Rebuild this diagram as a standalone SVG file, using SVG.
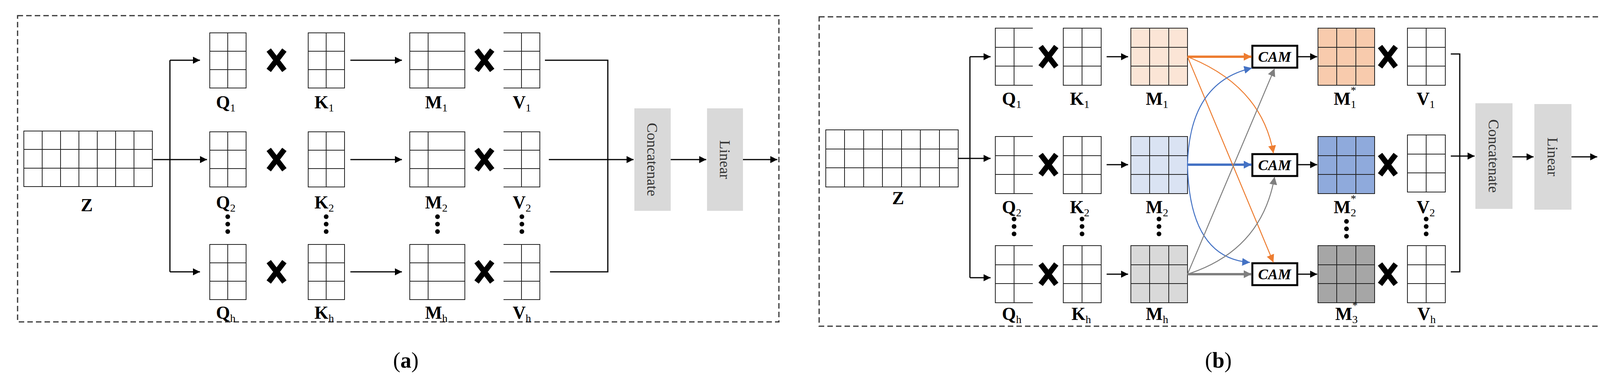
<svg xmlns="http://www.w3.org/2000/svg" xmlns:xlink="http://www.w3.org/1999/xlink" width="4136" height="992" viewBox="0 0 4136 992">
<style>
.g{fill:none;stroke:#222;stroke-width:2}
.c{fill:none;stroke:#000;stroke-width:3}
.lb{font-family:"Liberation Serif",serif;font-weight:bold;font-size:46px;text-anchor:middle}
.sb{font-size:28px;font-weight:normal}
.cam{font-family:"Liberation Serif",serif;font-weight:bold;font-style:italic;font-size:38px;text-anchor:middle}
.rot{font-family:"Liberation Serif",serif;font-size:38px;fill:#333;text-anchor:middle}
.x{stroke:#000;stroke-width:14;stroke-linecap:butt}
.box{fill:#d9d9d9}
</style>
<defs>
<marker id="ah" viewBox="0 0 10 10" refX="10" refY="5" markerWidth="18" markerHeight="18" markerUnits="userSpaceOnUse" orient="auto"><path d="M0,0L10,5L0,10z" fill="#000"/></marker>
<marker id="ao" viewBox="0 0 10 10" refX="10" refY="5" markerWidth="20" markerHeight="20" markerUnits="userSpaceOnUse" orient="auto"><path d="M0,0L10,5L0,10z" fill="#ed7d31"/></marker>
<marker id="ab" viewBox="0 0 10 10" refX="10" refY="5" markerWidth="20" markerHeight="20" markerUnits="userSpaceOnUse" orient="auto"><path d="M0,0L10,5L0,10z" fill="#4472c4"/></marker>
<marker id="ag" viewBox="0 0 10 10" refX="10" refY="5" markerWidth="20" markerHeight="20" markerUnits="userSpaceOnUse" orient="auto"><path d="M0,0L10,5L0,10z" fill="#7f7f7f"/></marker>
<g id="gQa" class="g"><rect x="0" y="0" width="93" height="141"/><path d="M46,0V141M0,47H93M0,94H93"/></g>
<g id="gMa" class="g"><rect x="0" y="0" width="141" height="141"/><path d="M47,0V141M0,47H141M0,94H141"/></g>
<g id="gVa" class="g"><path d="M0,0H93V141H0M46,0V141M0,47H93M0,94H93"/></g>
<g id="gZa" class="g"><rect x="0" y="0" width="329" height="142"/><path d="M47,0V142M94,0V142M141,0V142M188,0V142M235,0V142M282,0V142M0,47H329M0,95H329"/></g>
<g id="gQb" class="g"><path d="M96,0H0V146H96M48,0V146M0,49H96M0,97H96"/></g>
<g id="gKb" class="g"><rect x="0" y="0" width="97" height="146"/><path d="M48,0V146M0,49H97M0,97H97"/></g>
<g id="gMb" class="g"><rect x="0" y="0" width="145" height="146"/><path d="M48,0V146M97,0V146M0,49H145M0,97H145"/></g>
<g id="gZb"><rect x="0" y="0" width="339" height="146" class="g"/><path class="g" d="M48,0V146M97,0V146M145,0V146M194,0V146M242,0V146M291,0V146M0,49H339M0,97H339"/></g>
<g id="xm"><path class="x" d="M-20,-26L20,26M20,-26L-20,26"/></g>
<g id="dots"><circle cx="0" cy="0" r="6"/><circle cx="0" cy="19" r="6"/><circle cx="0" cy="38" r="6"/></g>
</defs>

<!-- Panel a -->
<rect x="45" y="40" width="1949" height="783" fill="none" stroke="#333" stroke-width="3" stroke-dasharray="14,8"/>
<g id="a-Z"><use href="#gZa" x="61" y="335"/><text class="lb" x="222" y="540">Z</text></g>
<g id="a-Q1"><use href="#gQa" x="537" y="84"/><text class="lb" x="578" y="277">Q<tspan class="sb" dy="8">1</tspan></text></g>
<g id="a-Q2"><use href="#gQa" x="537" y="337"/><text class="lb" x="578" y="533">Q<tspan class="sb" dy="8">2</tspan></text></g>
<g id="a-Qh"><use href="#gQa" x="537" y="625"/><text class="lb" x="578" y="815">Q<tspan class="sb" dy="8">h</tspan></text></g>
<g id="a-K1"><use href="#gQa" x="789" y="84"/><text class="lb" x="830" y="277">K<tspan class="sb" dy="8">1</tspan></text></g>
<g id="a-K2"><use href="#gQa" x="789" y="337"/><text class="lb" x="830" y="533">K<tspan class="sb" dy="8">2</tspan></text></g>
<g id="a-Kh"><use href="#gQa" x="789" y="625"/><text class="lb" x="830" y="815">K<tspan class="sb" dy="8">h</tspan></text></g>
<g id="a-M1"><use href="#gMa" x="1049" y="84"/><text class="lb" x="1117" y="277">M<tspan class="sb" dy="8">1</tspan></text></g>
<g id="a-M2"><use href="#gMa" x="1049" y="337"/><text class="lb" x="1117" y="533">M<tspan class="sb" dy="8">2</tspan></text></g>
<g id="a-Mh"><use href="#gMa" x="1049" y="625"/><text class="lb" x="1117" y="815">M<tspan class="sb" dy="8">h</tspan></text></g>
<g id="a-V1"><use href="#gVa" x="1289" y="84"/><text class="lb" x="1336" y="277">V<tspan class="sb" dy="8">1</tspan></text></g>
<g id="a-V2"><use href="#gVa" x="1289" y="337"/><text class="lb" x="1336" y="533">V<tspan class="sb" dy="8">2</tspan></text></g>
<g id="a-Vh"><use href="#gVa" x="1289" y="625"/><text class="lb" x="1336" y="815">V<tspan class="sb" dy="8">h</tspan></text></g>
<g id="a-ops">
<use href="#xm" x="708" y="154"/><use href="#xm" x="708" y="408"/><use href="#xm" x="708" y="695"/>
<use href="#xm" x="1240" y="154"/><use href="#xm" x="1240" y="408"/><use href="#xm" x="1240" y="695"/>
<use href="#dots" x="583" y="554"/><use href="#dots" x="835" y="554"/><use href="#dots" x="1120" y="554"/><use href="#dots" x="1336" y="554"/>
</g>
<g id="a-concat"><rect class="box" x="1624" y="277" width="93" height="262"/><text class="rot" transform="translate(1670,408) rotate(90)" dy="13">Concatenate</text></g>
<g id="a-linear"><rect class="box" x="1810" y="277" width="92" height="262"/><text class="rot" transform="translate(1856,408) rotate(90)" dy="13">Linear</text></g>
<g id="a-connectors" class="c">
<path d="M392,408H530" marker-end="url(#ah)"/>
<path d="M435,154V695"/>
<path d="M435,154H512" marker-end="url(#ah)"/>
<path d="M435,695H512" marker-end="url(#ah)"/>
<path d="M897,154H1029" marker-end="url(#ah)"/>
<path d="M897,408H1029" marker-end="url(#ah)"/>
<path d="M897,695H1029" marker-end="url(#ah)"/>
<path d="M1395,154H1556V695H1408"/>
<path d="M1405,408H1622" marker-end="url(#ah)"/>
<path d="M1717,408H1808" marker-end="url(#ah)"/>
<path d="M1902,408H1990" marker-end="url(#ah)"/>
</g>
<text x="1039" y="940" font-family="Liberation Serif,serif" font-size="56" text-anchor="middle">(<tspan font-weight="bold">a</tspan>)</text>

<!-- Panel b -->
<rect x="2097" y="43" width="2009" height="791" fill="none" stroke="#333" stroke-width="3" stroke-dasharray="14,8"/>
<g id="b-Z"><use href="#gZb" x="2114" y="332"/><text class="lb" x="2299" y="522">Z</text></g>
<g id="b-Q1"><use href="#gQb" x="2548" y="72"/><text class="lb" x="2590" y="268">Q<tspan class="sb" dy="8">1</tspan></text></g>
<g id="b-Q2"><use href="#gQb" x="2548" y="349"/><text class="lb" x="2590" y="545">Q<tspan class="sb" dy="8">2</tspan></text></g>
<g id="b-Qh"><use href="#gQb" x="2548" y="628"/><text class="lb" x="2590" y="818">Q<tspan class="sb" dy="8">h</tspan></text></g>
<g id="b-K1"><use href="#gKb" x="2722" y="72"/><text class="lb" x="2764" y="268">K<tspan class="sb" dy="8">1</tspan></text></g>
<g id="b-K2"><use href="#gKb" x="2722" y="349"/><text class="lb" x="2764" y="545">K<tspan class="sb" dy="8">2</tspan></text></g>
<g id="b-Kh"><use href="#gKb" x="2722" y="628"/><text class="lb" x="2768" y="818">K<tspan class="sb" dy="8">h</tspan></text></g>
<g id="b-M1"><rect x="2895" y="72" width="145" height="146" fill="#fbe5d6"/><use href="#gMb" x="2895" y="72"/><text class="lb" x="2962" y="268">M<tspan class="sb" dy="8">1</tspan></text></g>
<g id="b-M2"><rect x="2895" y="349" width="145" height="146" fill="#dae3f3"/><use href="#gMb" x="2895" y="349"/><text class="lb" x="2962" y="545">M<tspan class="sb" dy="8">2</tspan></text></g>
<g id="b-Mh"><rect x="2895" y="628" width="145" height="146" fill="#d9d9d9"/><use href="#gMb" x="2895" y="628"/><text class="lb" x="2962" y="818">M<tspan class="sb" dy="8">h</tspan></text></g>
<g id="b-CAM1"><rect x="3206" y="117" width="115" height="56" fill="#fff" stroke="#000" stroke-width="5"/><text class="cam" x="3263" y="158">CAM</text></g>
<g id="b-CAM2"><rect x="3206" y="394" width="115" height="56" fill="#fff" stroke="#000" stroke-width="5"/><text class="cam" x="3263" y="435">CAM</text></g>
<g id="b-CAM3"><rect x="3206" y="673" width="115" height="56" fill="#fff" stroke="#000" stroke-width="5"/><text class="cam" x="3263" y="714">CAM</text></g>
<g id="b-Ms1"><rect x="3374" y="72" width="145" height="146" fill="#f8cbad"/><use href="#gMb" x="3374" y="72"/><text class="lb" x="3443" y="268">M<tspan class="sb" dy="8">1</tspan><tspan class="sb" dx="-14" dy="-36">*</tspan></text></g>
<g id="b-Ms2"><rect x="3374" y="349" width="145" height="146" fill="#8faadc"/><use href="#gMb" x="3374" y="349"/><text class="lb" x="3443" y="545">M<tspan class="sb" dy="8">2</tspan><tspan class="sb" dx="-14" dy="-36">*</tspan></text></g>
<g id="b-Ms3"><rect x="3374" y="628" width="145" height="146" fill="#a6a6a6"/><use href="#gMb" x="3374" y="628"/><text class="lb" x="3447" y="818">M<tspan class="sb" dy="8">3</tspan><tspan class="sb" dx="-14" dy="-36">*</tspan></text></g>
<g id="b-V1"><use href="#gKb" x="3603" y="72"/><text class="lb" x="3650" y="268">V<tspan class="sb" dy="8">1</tspan></text></g>
<g id="b-V2"><use href="#gKb" x="3603" y="345"/><text class="lb" x="3650" y="545">V<tspan class="sb" dy="8">2</tspan></text></g>
<g id="b-Vh"><use href="#gKb" x="3603" y="628"/><text class="lb" x="3652" y="818">V<tspan class="sb" dy="8">h</tspan></text></g>
<g id="b-ops">
<use href="#xm" x="2684" y="145"/><use href="#xm" x="2684" y="421"/><use href="#xm" x="2684" y="701"/>
<use href="#xm" x="3553" y="145"/><use href="#xm" x="3553" y="421"/><use href="#xm" x="3553" y="701"/>
<use href="#dots" x="2596" y="560"/><use href="#dots" x="2770" y="560"/><use href="#dots" x="2967" y="560"/><use href="#dots" x="3447" y="566"/><use href="#dots" x="3651" y="560"/>
</g>
<g id="b-concat"><rect class="box" x="3777" y="264" width="95" height="270"/><text class="rot" transform="translate(3824,399) rotate(90)" dy="13">Concatenate</text></g>
<g id="b-linear"><rect class="box" x="3928" y="266" width="95" height="270"/><text class="rot" transform="translate(3975,401) rotate(90)" dy="13">Linear</text></g>
<g id="b-connectors">
<g class="c">
<path d="M2453,405H2536" marker-end="url(#ah)"/>
<path d="M2483,145V710"/>
<path d="M2483,145H2536" marker-end="url(#ah)"/>
<path d="M2483,710H2536" marker-end="url(#ah)"/>
<path d="M2833,145H2888" marker-end="url(#ah)"/>
<path d="M2833,421H2888" marker-end="url(#ah)"/>
<path d="M2833,701H2888" marker-end="url(#ah)"/>
<path d="M3321,145H3372" marker-end="url(#ah)"/>
<path d="M3321,421H3372" marker-end="url(#ah)"/>
<path d="M3321,701H3372" marker-end="url(#ah)"/>
<path d="M3714,138H3737V695H3714"/>
<path d="M3714,399H3775" marker-end="url(#ah)"/>
<path d="M3872,401H3926" marker-end="url(#ah)"/>
<path d="M4023,401H4089" marker-end="url(#ah)"/>
</g>
<path d="M3040,145H3204" stroke="#ed7d31" stroke-width="6" fill="none" marker-end="url(#ao)"/>
<path d="M3040,421H3204" stroke="#4472c4" stroke-width="6" fill="none" marker-end="url(#ab)"/>
<path d="M3040,701H3204" stroke="#7f7f7f" stroke-width="6" fill="none" marker-end="url(#ag)"/>
<g fill="none" stroke-width="2.5">
<path d="M3040,145Q3230,220 3260,392" stroke="#ed7d31" marker-end="url(#ao)"/>
<path d="M3040,145L3260,671" stroke="#ed7d31" marker-end="url(#ao)"/>
<path d="M3040,421Q3045,210 3205,174" stroke="#4472c4" marker-end="url(#ab)"/>
<path d="M3040,421Q3045,660 3200,671" stroke="#4472c4" marker-end="url(#ab)"/>
<path d="M3040,701L3263,175" stroke="#7f7f7f" marker-end="url(#ag)"/>
<path d="M3040,701Q3230,640 3263,452" stroke="#7f7f7f" marker-end="url(#ag)"/>
</g>
</g>
<text x="3119" y="940" font-family="Liberation Serif,serif" font-size="56" text-anchor="middle">(<tspan font-weight="bold">b</tspan>)</text>
</svg>
